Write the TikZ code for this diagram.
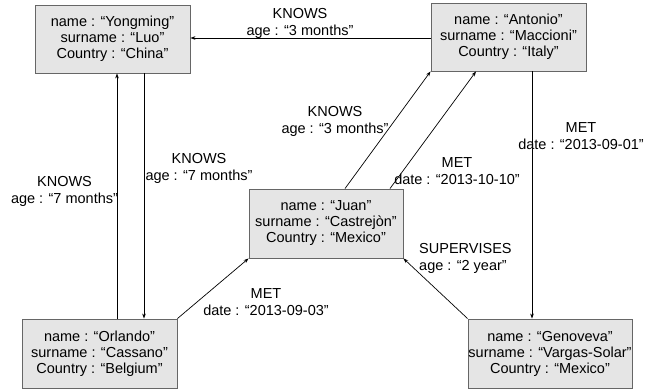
\documentclass[tikz,border=0pt]{standalone}
\usepackage{fontspec}
\setmainfont{Liberation Sans}
\usetikzlibrary{arrows.meta}
\begin{document}
\begin{tikzpicture}[x=1pt,y=-1pt,
  entity/.style={draw=black!60,fill=black!10,line width=0.9pt,minimum width=155pt,minimum height=68pt,inner sep=0pt,align=center,font=\fontsize{14.5}{16}\selectfont},
  lbl/.style={inner sep=0pt,align=center,font=\fontsize{14.5}{17}\selectfont},
  rel/.style={draw=black,line width=0.7pt,-{Stealth[length=5pt,width=3.6pt]}}]
\useasboundingbox (0,0) rectangle (653,391);
\node[entity] (Yong) at (112.5,39) {name : “Yongming”\\surname : “Luo”\\Country : “China”};
\node[entity] (Ant) at (508.5,37) {name : “Antonio”\\surname : “Maccioni”\\Country : “Italy”};
\node[entity,minimum width=154pt,minimum height=69pt] (Juan) at (326,223.5) {name : “Juan”\\surname : “Castrejòn”\\Country : “Mexico”};
\node[entity,minimum height=69pt] (Orl) at (99.5,353.5) {name : “Orlando”\\surname : “Cassano”\\Country : “Belgium”};
\node[entity,minimum width=164pt,minimum height=69pt] (Gen) at (550,353.5) {name : “Genoveva”\\surname : “Vargas-Solar”\\Country : “Mexico”};
% connectors
\draw[rel] ([yshift=-1pt]Ant.west) -- ([yshift=-1pt]Ant.west -| Yong.east);
\draw[rel] ([xshift=17.5pt]Orl.north) -- ([xshift=4.5pt]Yong.south);
\draw[rel] ([xshift=31.5pt]Yong.south) -- ([xshift=44.5pt]Orl.north);
\draw[rel] ([xshift=19pt]Juan.north) -- (Ant.south west);
\draw[rel] ([xshift=64pt]Juan.north) -- ([xshift=-32.5pt]Ant.south);
\draw[rel] ([xshift=23.5pt]Ant.south) -- ([xshift=-18pt]Gen.north);
\draw[rel] (Orl.north east) -- (Juan.south west);
\draw[rel] (Gen.north west) -- (Juan.south east);
% labels
\node[lbl] (l1) at (300,23) {KNOWS\\age : “3 months”};
\node[lbl] (l2) at (64.5,191.5) {KNOWS\\age : “7 months”};
\node[lbl] (l3) at (199,168.5) {KNOWS\\age : “7 months”};
\node[lbl] (l4) at (335,121.5) {KNOWS\\age : “3 months”};
\node[lbl] (l5) at (457,171.5) {MET\\date : “2013-10-10”};
\node[lbl] (l6) at (581,136.5) {MET\\date : “2013-09-01”};
\node[lbl] (l7) at (266,302.5) {MET\\date : “2013-09-03”};
\node[lbl,align=left,anchor=west] (l8) at (419,258) {SUPERVISES\\age : “2 year”};
\end{tikzpicture}
\end{document}
